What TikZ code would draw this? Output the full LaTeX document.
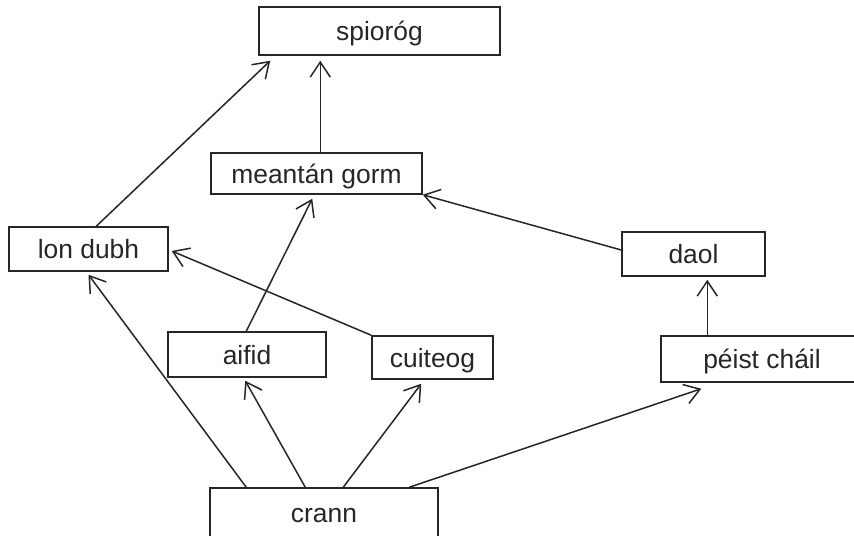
\documentclass[tikz,border=0pt]{standalone}
\usepackage{fontspec}
\setmainfont{Liberation Sans}
\usetikzlibrary{arrows.meta}

\begin{document}
\begin{tikzpicture}[
        x=0.5pt, y=-0.5pt,
        line width=0.75pt,
        box/.style={draw=black!85, rectangle, inner sep=0pt, text=black!85,
                font=\fontsize{13.2}{16}\selectfont, text height=9.5pt, text depth=0pt},
        link/.style={draw=black!85, -{Straight Barb[length=7.5pt,width=10pt]}}
    ]
    \useasboundingbox (0,0) rectangle (854,535);
    \fill[white] (0,0) rectangle (854,535);
    \clip (0,0) rectangle (854,535);

    \node[box, minimum width=120.5pt, minimum height=24pt] (spiorog) at (379.5,31) {spioróg};
    \node[box, minimum width=105.5pt, minimum height=20.5pt] (meantan) at (316.5,173.5) {meantán gorm};
    \node[box, minimum width=79.5pt, minimum height=22pt] (londubh) at (88.5,249) {lon dubh};
    \node[box, minimum width=71.5pt, minimum height=22pt] (daol) at (693.5,254) {daol};
    \node[box, minimum width=79pt, minimum height=22.5pt] (aifid) at (247,354.5) {aifid};
    \node[box, minimum width=60.5pt, minimum height=21.5pt] (cuiteog) at (432.5,357.5) {cuiteog};
    \node[box, minimum width=101pt, minimum height=23pt] (peist) at (762,359) {péist cháil};
    \node[box, minimum width=114pt, minimum height=25pt] (crann) at (324,513) {crann};

    \draw[link] ([shift={(88,0)}]londubh.north west) -- ([shift={(12,5)}]spiorog.south west);
    \draw[link] ([shift={(110,0)}]meantan.north west) -- ([shift={(62,5)}]spiorog.south west);
    \draw[link] ([shift={(0,-4)}]daol.west) -- (meantan.south east);
    \draw[link] ([shift={(79,0)}]aifid.north west) -- ([shift={(102,4)}]meantan.south west);
    \draw[link] (cuiteog.north west) -- ([shift={(3,2)}]londubh.east);
    \draw[link] ([shift={(47,0)}]peist.north west) -- ([shift={(86,3)}]daol.south west);
    \draw[link] ([shift={(37,0)}]crann.north west) -- ([shift={(0,3)}]londubh.south);
    \draw[link] ([shift={(96,0)}]crann.north west) -- ([shift={(78,3)}]aifid.south west);
    \draw[link] ([shift={(134,0)}]crann.north west) -- ([shift={(50,4)}]cuiteog.south west);
    \draw[link] ([shift={(200,0)}]crann.north west) -- ([shift={(41,6)}]peist.south west);
\end{tikzpicture}
\end{document}
